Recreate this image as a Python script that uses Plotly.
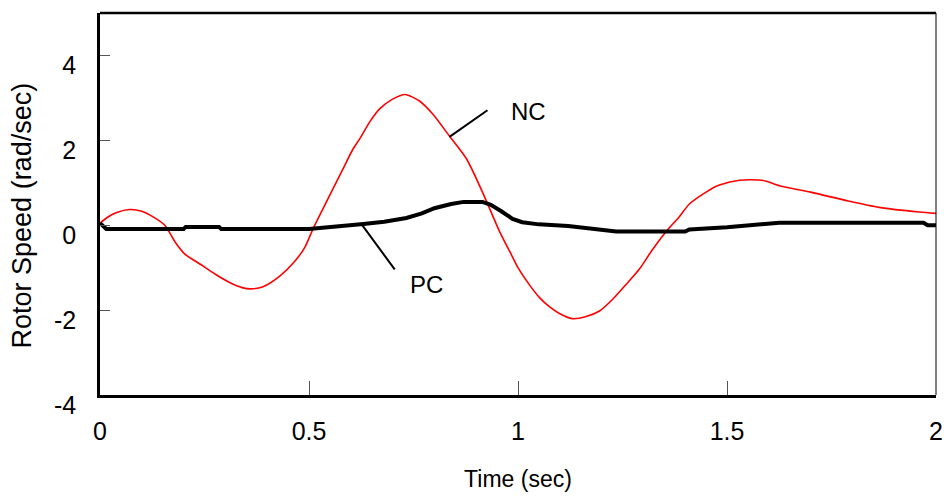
import plotly.graph_objects as go

# Time axis samples (sec) and rotor speed deviations (rad/sec)
t_nc = [0.0, 0.02, 0.04, 0.07, 0.10, 0.13, 0.155, 0.18, 0.203, 0.24, 0.275, 0.31,
        0.34, 0.36, 0.39, 0.43, 0.466, 0.49, 0.509, 0.533, 0.557, 0.581, 0.605,
        0.621, 0.645, 0.669, 0.70, 0.73, 0.765, 0.796, 0.836, 0.877, 0.915, 0.956,
        0.987, 1.0, 1.027, 1.051, 1.075, 1.099, 1.13, 1.163, 1.195, 1.226, 1.259,
        1.29, 1.322, 1.355, 1.386, 1.41, 1.45, 1.48, 1.53, 1.584, 1.63, 1.70,
        1.79, 1.864, 1.96, 2.0]
nc_speed = [0.05, 0.2, 0.3, 0.37, 0.33, 0.18, 0.0, -0.4, -0.68, -0.92, -1.15, -1.35,
            -1.47, -1.5, -1.45, -1.2, -0.85, -0.52, -0.1, 0.38, 0.85, 1.32, 1.79,
            2.03, 2.43, 2.74, 2.97, 3.08, 2.92, 2.62, 2.1, 1.56, 0.78, -0.15,
            -0.75, -1.0, -1.4, -1.7, -1.92, -2.08, -2.2, -2.15, -2.02, -1.75, -1.39,
            -1.04, -0.57, -0.14, 0.2, 0.5, 0.78, 0.94, 1.06, 1.06, 0.92, 0.78,
            0.57, 0.42, 0.31, 0.28]

t_pc = [0.0, 0.015, 0.2, 0.205, 0.285, 0.29, 0.5, 0.55, 0.6, 0.63, 0.68, 0.733,
        0.77, 0.8, 0.84, 0.87, 0.915, 0.935, 0.96, 0.987, 1.01, 1.05, 1.12, 1.2,
        1.235, 1.4, 1.41, 1.5, 1.56, 1.625, 1.97, 1.98, 2.0]
pc_speed = [0.05, -0.09, -0.09, -0.04, -0.04, -0.09, -0.09, -0.05, 0.0, 0.03, 0.08,
            0.17, 0.28, 0.4, 0.5, 0.55, 0.55, 0.48, 0.33, 0.15, 0.07, 0.02, -0.02,
            -0.1, -0.15, -0.15, -0.1, -0.05, 0.0, 0.06, 0.06, 0.0, 0.0]

x_ticks = [0, 0.5, 1, 1.5, 2]
x_labels = ["0", "0.5", "1", "1.5", "2"]
y_ticks = [-4, -2, 0, 2, 4]
y_labels = ["-4", "-2", "0", "2", "4"]

FONT = "Liberation Sans, Arial, sans-serif"

fig = go.Figure()
fig.add_trace(go.Scatter(x=t_nc, y=nc_speed, mode="lines", name="NC",
                         line=dict(color="#ff0000", width=1.6, shape="spline",
                                   smoothing=0.7)))
fig.add_trace(go.Scatter(x=t_pc, y=pc_speed, mode="lines", name="PC",
                         line=dict(color="#000000", width=4)))

# leader lines for the curve labels
fig.add_shape(type="line", x0=0.836, y0=2.08, x1=0.927, y1=2.71,
              line=dict(color="black", width=2))
fig.add_shape(type="line", x0=0.626, y0=0.02, x1=0.705, y1=-1.04,
              line=dict(color="black", width=2))
fig.add_annotation(x=1.025, y=2.69, text="NC", showarrow=False,
                   font=dict(family=FONT, size=24, color="black"))
fig.add_annotation(x=0.781, y=-1.39, text="PC", showarrow=False,
                   font=dict(family=FONT, size=24, color="black"))

# y-axis title, placed as rotated text
fig.add_annotation(xref="paper", yref="paper", x=0, y=0.47, xshift=-78,
                   xanchor="center", yanchor="middle",
                   text="Rotor Speed (rad/sec)", textangle=-90, showarrow=False,
                   font=dict(family=FONT, size=27, color="black"))

# frame: heavy top edge, thin right edge
fig.add_shape(type="line", xref="paper", yref="paper", x0=0, x1=1, y0=1, y1=1,
              line=dict(color="black", width=2.5))
fig.add_shape(type="line", xref="paper", yref="paper", x0=1, x1=1, y0=0, y1=1,
              line=dict(color="black", width=1))

fig.update_layout(
    width=944, height=497,
    margin=dict(l=100, r=8, t=13, b=102, autoexpand=False),
    paper_bgcolor="white", plot_bgcolor="white",
    showlegend=False,
    xaxis=dict(range=[0, 2], tickvals=x_ticks, ticktext=x_labels,
               ticks="inside", ticklen=14, tickwidth=1, tickcolor="#555",
               showline=True, linecolor="black", linewidth=2.5,
               showgrid=False, zeroline=False, ticklabelstandoff=12,
               ticklabeloverflow="allow", automargin=False,
               tickfont=dict(family=FONT, size=25, color="black"),
               title=dict(text="Time (sec)", standoff=28,
                          font=dict(family=FONT, size=23, color="black"))),
    yaxis=dict(range=[-4, 5], tickvals=y_ticks, ticktext=y_labels,
               ticks="inside", ticklen=10, tickwidth=1, tickcolor="#555",
               showline=True, linecolor="black", linewidth=2.5,
               showgrid=False, zeroline=False, ticklabelshift=10,
               ticklabelstandoff=16, automargin=False,
               tickfont=dict(family=FONT, size=25, color="black")),
)

fig.write_html("out.html")
